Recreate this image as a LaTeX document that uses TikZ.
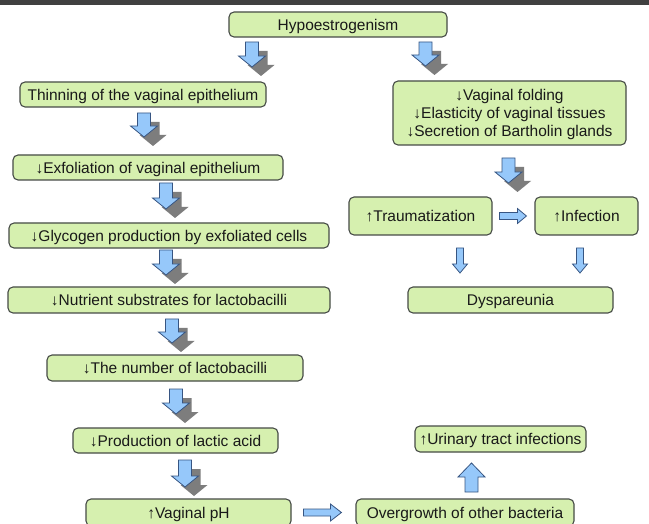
\documentclass[tikz,border=0pt]{standalone}
\usepackage{fontspec}
\setmainfont{Liberation Sans}
\usetikzlibrary{calc}
\definecolor{boxfill}{RGB}{214,240,175}
\definecolor{boxline}{RGB}{70,75,70}
\definecolor{arrfill}{RGB}{150,200,250}
\definecolor{arrline}{RGB}{55,85,130}
\definecolor{shgray}{RGB}{125,125,125}
\definecolor{barcol}{RGB}{64,64,64}
\definecolor{txtcol}{RGB}{25,25,25}
\tikzset{
  box/.style={draw=boxline, fill=boxfill, line width=1.1pt, rounded corners=5pt,
    inner sep=0pt, text=txtcol, font=\fontsize{15.5}{18}\selectfont, align=center,
    text depth=0pt},
  blue arrow/.style={fill=arrfill, draw=arrline, line width=0.8pt, line join=miter},
  arrow shade/.style={fill=shgray, draw=none},
}
\newcommand\blkdown[6]{\path[#1] let \p1=(#2),\p2=(#3) in
  (\x1-#4,\y1) -- (\x1+#4,\y1) -- (\x1+#4,\y2+#6) -- (\x1+#5,\y2+#6) -- (\x1,\y2)
  -- (\x1-#5,\y2+#6) -- (\x1-#4,\y2+#6) -- cycle;}
\newcommand\blkup[6]{\path[#1] let \p1=(#2),\p2=(#3) in
  (\x1-#4,\y1) -- (\x1+#4,\y1) -- (\x1+#4,\y2-#6) -- (\x1+#5,\y2-#6) -- (\x1,\y2)
  -- (\x1-#5,\y2-#6) -- (\x1-#4,\y2-#6) -- cycle;}
\newcommand\blkright[6]{\path[#1] let \p1=(#2),\p2=(#3) in
  (\x1,\y1-#4) -- (\x1,\y1+#4) -- (\x2-#6,\y1+#4) -- (\x2-#6,\y1+#5) -- (\x2,\y1)
  -- (\x2-#6,\y1-#5) -- (\x2-#6,\y1-#4) -- cycle;}
\newcommand\blkthree[2]{%
  \begin{scope}[transform canvas={xshift=9pt,yshift=-9pt}]\blkdown{arrow shade}{#1}{#2}{6.5pt}{13.5pt}{11pt}\end{scope}
  \blkdown{blue arrow}{#1}{#2}{6.5pt}{13.5pt}{11pt}}
\begin{document}
\begin{tikzpicture}[x=1pt,y=-1pt]
\useasboundingbox (0,0) rectangle (649,524);
\clip (0,0) rectangle (649,524);
\fill[white] (0,0) rectangle (649,524);
\fill[barcol] (0,0) rectangle (649,5.5);

% nodes
\node[box, minimum width=218pt, minimum height=25pt] (hypo) at (338,24.5) {Hypoestrogenism};
\node[box, minimum width=246pt, minimum height=25pt] (thin) at (143,94.5) {Thinning of the vaginal epithelium};
\node[box, minimum width=233pt, minimum height=64pt] (right) at (509.5,113) {↓Vaginal folding\\↓Elasticity of vaginal tissues\\↓Secretion of Bartholin glands};
\node[box, minimum width=270pt, minimum height=25pt] (exf) at (148,167.5) {↓Exfoliation of vaginal epithelium};
\node[box, minimum width=320pt, minimum height=25pt] (gly) at (169,235.5) {↓Glycogen production by exfoliated cells};
\node[box, minimum width=322pt, minimum height=26pt] (nut) at (169,300) {↓Nutrient substrates for lactobacilli};
\node[box, minimum width=256pt, minimum height=26pt] (num) at (175,368) {↓The number of lactobacilli};
\node[box, minimum width=205pt, minimum height=25pt] (prod) at (175.5,440.5) {↓Production of lactic acid};
\node[box, minimum width=205pt, minimum height=27pt] (ph) at (188.5,512.5) {↑Vaginal pH};
\node[box, minimum width=143pt, minimum height=38pt] (trauma) at (420.5,216) {↑Traumatization};
\node[box, minimum width=103pt, minimum height=38pt] (infec) at (586.5,216) {↑Infection};
\node[box, minimum width=205pt, minimum height=26pt] (dysp) at (510.5,300) {Dyspareunia};
\node[box, minimum width=171pt, minimum height=26pt] (urin) at (500.5,439) {↑Urinary tract infections};
\node[box, minimum width=218pt, minimum height=27pt] (over) at (465,512.5) {Overgrowth of other bacteria};

% connector end points
\coordinate (a1s) at (252,42);   \coordinate (a1e) at (252,67);
\coordinate (a2s) at (425.5,42); \coordinate (a2e) at (425.5,66);
\coordinate (a3s) at (144,113);  \coordinate (a3e) at (144,137);
\coordinate (a4s) at (166,183);  \coordinate (a4e) at (166,209);
\coordinate (a5s) at (166,250);  \coordinate (a5e) at (166,275);
\coordinate (a6s) at (172,319);  \coordinate (a6e) at (172,343);
\coordinate (a7s) at (176,389);  \coordinate (a7e) at (176,414);
\coordinate (a8s) at (185,460);  \coordinate (a8e) at (185,487);
\coordinate (a9s) at (508.5,158); \coordinate (a9e) at (508.5,183);

\blkthree{a1s}{a1e}
\blkthree{a2s}{a2e}
\blkthree{a3s}{a3e}
\blkthree{a4s}{a4e}
\blkthree{a5s}{a5e}
\blkthree{a6s}{a6e}
\blkthree{a7s}{a7e}
\blkthree{a8s}{a8e}
\blkthree{a9s}{a9e}

% simple arrows
\coordinate (t1s) at ($(trauma.east)+(7,0)$);  \coordinate (t1e) at ($(infec.west)+(-8,0)$);
\blkright{blue arrow}{t1s}{t1e}{3.5pt}{7.5pt}{9pt}
\coordinate (t2s) at (460,248); \coordinate (t2e) at (460,273);
\blkdown{blue arrow}{t2s}{t2e}{3.5pt}{7.5pt}{9pt}
\coordinate (t3s) at (580,248); \coordinate (t3e) at (580,273);
\blkdown{blue arrow}{t3s}{t3e}{3.5pt}{7.5pt}{9pt}
\coordinate (p1s) at ($(ph.east)+(12,0)$); \coordinate (p1e) at ($(over.west)+(-14,0)$);
\blkright{blue arrow}{p1s}{p1e}{3.5pt}{8.5pt}{11pt}
\coordinate (u1s) at (471.5,492); \coordinate (u1e) at (471.5,463);
\blkup{blue arrow}{u1s}{u1e}{6.5pt}{13.5pt}{14pt}
\end{tikzpicture}
\end{document}
